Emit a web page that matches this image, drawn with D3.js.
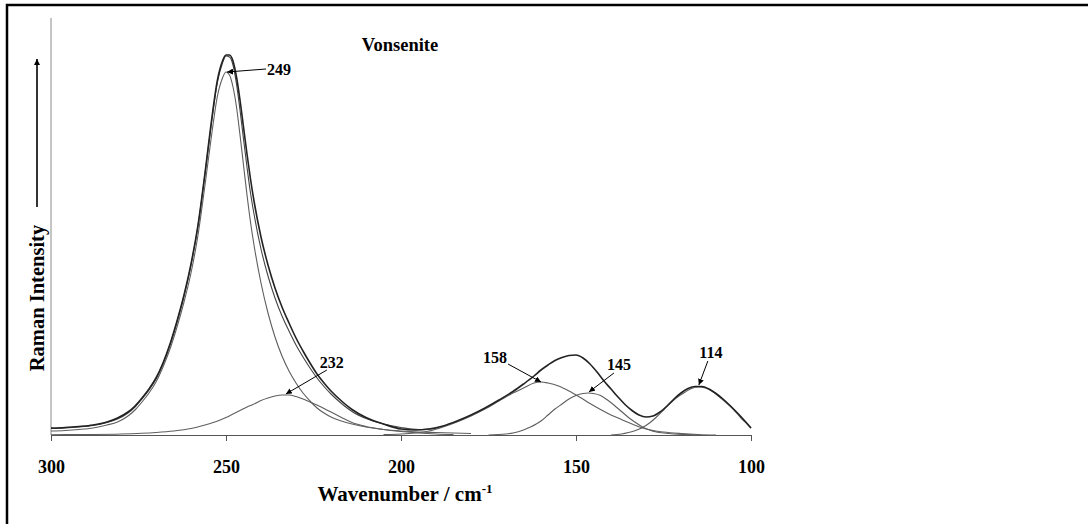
<!DOCTYPE html>
<html>
<head>
<meta charset="utf-8">
<script src="https://cdn.jsdelivr.net/npm/d3@7"></script>
<style>
    body { margin: 0; background: #fff; }
    text { font-family: "Liberation Serif", "Times New Roman", serif; font-weight: bold; fill: #000; }
</style>
</head>
<body>
<svg width="1088" height="524"></svg>
<script>
    // wavenumber (cm-1), intensity (arbitrary units)
    var spectrum = [
        [300, 7], [296, 7.5], [292, 8.5], [288, 10], [284, 13], [281, 17], [278, 23], [276, 29],
        [274, 37], [272, 46], [270, 57], [268, 72], [266, 91], [264, 114], [262, 140], [260, 171],
        [258, 210], [256, 262], [254, 318], [252.5, 354], [251, 374], [250, 380], [249, 380],
        [248, 374], [247, 358], [246, 335], [245, 308], [244, 281], [243, 256], [242, 234],
        [240, 198], [238, 170], [236, 147], [234, 128], [232, 112], [230, 97], [228, 84], [226, 72],
        [224, 61], [222, 52], [220, 44], [217, 34], [214, 25.5], [210, 17.5], [205, 11], [200, 6],
        [196, 5], [192, 6], [188, 9], [184, 14], [180, 20], [176, 27], [172, 35], [168, 43.5],
        [165, 51], [162, 59], [160, 65], [158, 70], [156, 74.5], [154, 77.5], [152, 79.5], [150, 80],
        [148, 77], [146, 71], [144, 63], [142, 54], [140, 46], [138, 38], [136, 30.5], [134, 24.5],
        [132, 20], [130, 18], [128, 19], [126, 23], [124, 29], [122, 36], [120, 42], [118, 46.5],
        [116, 48.5], [114, 48.5], [112, 46], [110, 41.5], [108, 36], [106, 29.5], [104, 22.5],
        [102, 15], [100, 7]
    ];

    var fitSum = [
        [300, 6.5], [296, 7], [292, 8], [288, 9.5], [284, 12.5], [281, 16], [278, 22], [276, 28],
        [274, 36], [272, 45], [270, 56], [268, 71], [266, 90], [264, 113], [262, 139], [260, 170],
        [258, 209], [256, 261], [254, 316], [252.5, 352], [251, 372], [250, 379], [249, 378],
        [248, 370], [247, 351], [246, 325], [245, 296], [244, 268], [243, 242], [242, 221],
        [240, 186], [238, 159], [236, 137], [234, 119], [232, 104], [230, 90], [228, 78], [226, 67],
        [224, 57], [222, 48.5], [220, 41], [217, 31.5], [214, 23.5], [210, 16.5], [205, 11],
        [200, 7.5], [195, 5.5], [190, 6.5]
    ];

    var band249 = [
        [300, 4], [296, 4.5], [292, 5.5], [288, 7], [284, 10], [281, 13], [278, 19], [276, 25],
        [274, 33], [272, 42], [270, 53], [268, 68], [266, 86], [264, 108], [262, 133], [260, 162],
        [258, 200], [256, 250], [254, 303], [252.5, 338], [251, 357], [250, 363], [249, 360],
        [248, 348], [247, 328], [246, 300], [245, 270], [244, 240], [243, 213], [242, 190],
        [240, 152], [238, 122], [236, 98], [234, 79], [232, 64], [230, 52], [228, 42], [226, 34],
        [224, 27], [222, 22], [220, 18], [217, 14], [214, 11], [210, 8], [205, 5.5], [200, 4],
        [195, 3], [190, 2.5], [185, 2], [180, 1.5]
    ];

    var band232 = [
        [300, 0.3], [290, 0.5], [280, 1], [270, 2.5], [265, 4], [260, 6.5], [256, 10], [252, 14.5],
        [250, 17.5], [248, 21], [246, 24.5], [244, 28], [242, 31], [240, 34.5], [238, 37], [236, 39],
        [234, 40], [232, 40], [230, 38.5], [228, 36], [226, 33], [224, 30], [222, 26.5], [220, 23],
        [217, 17.5], [214, 12.5], [210, 8.5], [205, 5.5], [200, 3.5], [195, 2], [190, 1], [185, 0.5]
    ];

    var band158 = [
        [205, 0.5], [200, 1], [196, 2], [192, 4], [188, 8], [184, 13], [180, 19], [176, 26],
        [172, 34], [168, 42], [165, 47], [162, 52], [160, 53], [158, 52], [155, 49], [152, 44],
        [149, 38], [146, 31.5], [143, 25.5], [140, 20], [137, 15.5], [134, 11], [131, 7], [128, 4.5],
        [125, 3], [120, 1.5], [115, 0.5], [110, 0]
    ];

    var band145 = [
        [175, 0], [170, 1], [168, 2], [165, 5], [163, 8], [160, 14], [158, 20], [156, 26],
        [154, 31], [152, 36], [150, 39.5], [148, 41.5], [146.5, 42], [145, 41.5], [143, 39.5],
        [141, 35], [139, 29.5], [137, 23.5], [135, 17.5], [133, 12.5], [131, 8], [129, 5],
        [127, 3], [125, 2], [122, 1], [118, 0.5], [115, 0]
    ];

    var band114 = [
        [140, 0], [137, 1], [135, 2.5], [133, 4.5], [131, 7.5], [129, 12], [127, 18], [125, 25],
        [123, 32], [121, 38], [119, 42.5], [117, 46.5], [115, 48], [113, 47], [111, 43.5],
        [109, 38], [107, 32], [105, 25.5], [103, 17.5], [101, 10.5], [100, 7]
    ];

    var xTicks = [300, 250, 200, 150, 100];

    // band labels and where their arrows point (wavenumber, intensity)
    var peakLabels = ["249", "232", "158", "145", "114"];
    var peakTips = [[249.7, 363], [232.9, 41], [160, 53], [146.3, 43], [114.9, 50]];

    // label placement relative to the arrow tip, in pixels
    var labelOffset = [[52, 3], [46, -26], [-46, -19], [30, -22], [12, -27]];
    var arrowStart = [[39, -3], [41, -24], [-33, -18], [25, -19], [9, -24]];

    var svg = d3.select("svg");

    var x = d3.scaleLinear().domain([300, 100]).range([51, 751]);
    var y = d3.scaleLinear().domain([0, 380]).range([435, 55]);

    var line = d3.line()
        .x(function(d) { return x(d[0]); })
        .y(function(d) { return y(d[1]); })
        .curve(d3.curveMonotoneX);

    // page frame
    svg.append("rect")
        .attr("x", 7).attr("y", 5)
        .attr("width", 1200).attr("height", 600)
        .attr("fill", "none").attr("stroke", "#000").attr("stroke-width", 2.5);

    var defs = svg.append("defs");
    defs.append("marker")
        .attr("id", "head")
        .attr("viewBox", "0 0 10 10")
        .attr("refX", 10).attr("refY", 5)
        .attr("markerWidth", 6).attr("markerHeight", 6)
        .attr("markerUnits", "userSpaceOnUse")
        .attr("orient", "auto")
        .append("path")
        .attr("d", "M0,0L10,5L0,10Z")
        .attr("fill", "#000");

    // y axis line (no ticks)
    svg.append("line")
        .attr("x1", x(300)).attr("x2", x(300))
        .attr("y1", y(0)).attr("y2", 18)
        .attr("stroke", "#8a8a8a").attr("stroke-width", 1);

    // x axis
    var xAxis = svg.append("g")
        .attr("transform", "translate(0," + y(0) + ")")
        .call(d3.axisBottom(x).tickValues(xTicks).tickSize(6).tickPadding(19).tickFormat(d3.format("d")));
    xAxis.select(".domain").attr("stroke", "#555");
    xAxis.selectAll(".tick line").attr("stroke", "#555");
    xAxis.selectAll(".tick text")
        .style("font-family", "Liberation Serif, serif")
        .style("font-weight", "bold")
        .style("font-size", "18px")
        .attr("fill", "#000");

    // bands (thin grey)
    [band232, band158, band145, band114, band249].forEach(function(b) {
        svg.append("path")
            .datum(b)
            .attr("fill", "none")
            .attr("stroke", "#5e5e5e")
            .attr("stroke-width", 1.1)
            .attr("d", line);
    });

    svg.append("path")
        .datum(fitSum)
        .attr("fill", "none")
        .attr("stroke", "#444")
        .attr("stroke-width", 1.1)
        .attr("d", line);

    svg.append("path")
        .datum(spectrum)
        .attr("fill", "none")
        .attr("stroke", "#222")
        .attr("stroke-width", 1.6)
        .attr("d", line);

    // band annotations
    peakLabels.forEach(function(lab, i) {
        var tx = x(peakTips[i][0]), ty = y(peakTips[i][1]);
        svg.append("line")
            .attr("x1", tx + arrowStart[i][0]).attr("y1", ty + arrowStart[i][1])
            .attr("x2", tx).attr("y2", ty)
            .attr("stroke", "#000").attr("stroke-width", 1)
            .attr("marker-end", "url(#head)");
        svg.append("text")
            .attr("x", tx + labelOffset[i][0]).attr("y", ty + labelOffset[i][1])
            .attr("text-anchor", "middle")
            .style("font-size", "16px")
            .text(lab);
    });

    // titles
    svg.append("text")
        .attr("x", 400).attr("y", 51)
        .attr("text-anchor", "middle")
        .style("font-size", "18.5px")
        .text("Vonsenite");

    var xt = svg.append("text")
        .attr("x", 405).attr("y", 501)
        .attr("text-anchor", "middle")
        .style("font-size", "21px");
    xt.append("tspan").text("Wavenumber / cm");
    xt.append("tspan").attr("dy", -8).style("font-size", "13px").text("-1");

    svg.append("text")
        .attr("transform", "translate(44,298) rotate(-90)")
        .attr("text-anchor", "middle")
        .style("font-size", "20.5px")
        .text("Raman Intensity");

    svg.append("line")
        .attr("x1", 37).attr("x2", 37)
        .attr("y1", 207).attr("y2", 59)
        .attr("stroke", "#000").attr("stroke-width", 1.6)
        .attr("marker-end", "url(#head)");
</script>
</body>
</html>
